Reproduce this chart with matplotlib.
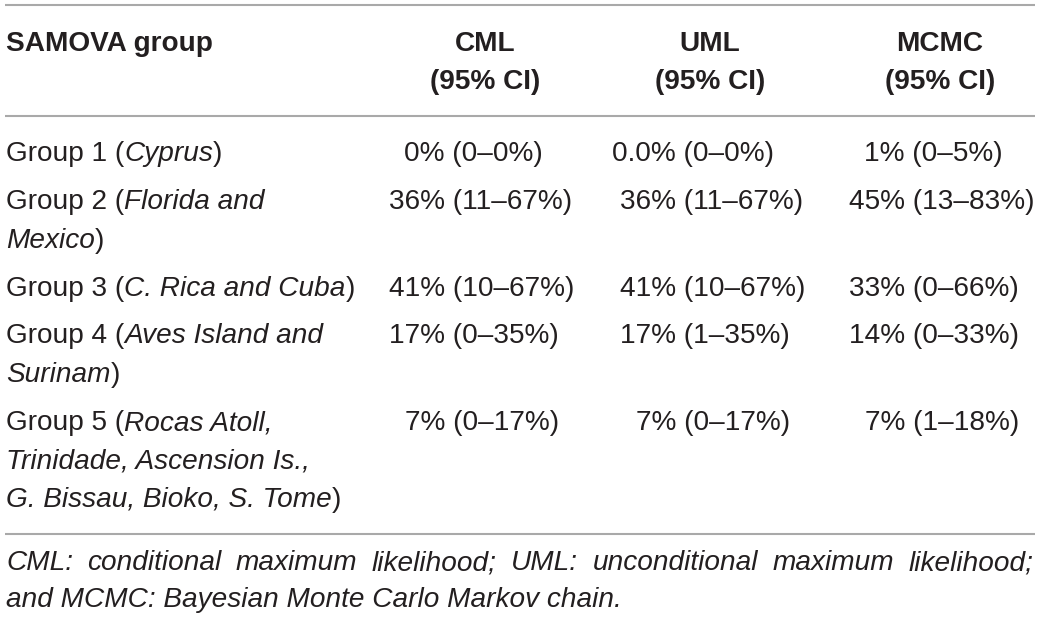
import matplotlib
matplotlib.use("Agg")
import matplotlib.pyplot as plt

# table content
headers = ["CML", "UML", "MCMC"]
header_sub = "(95% CI)"
first_col_header = "SAMOVA group"

groups = ["Group 1", "Group 2", "Group 3", "Group 4", "Group 5"]
places = [
    ["Cyprus"],
    ["Florida and", "Mexico"],
    ["C. Rica and Cuba"],
    ["Aves Island and", "Surinam"],
    ["Rocas Atoll,", "Trinidade, Ascension Is.,", "G. Bissau, Bioko, S. Tome"],
]
cml = ["0% (0–0%)", "36% (11–67%)", "41% (10–67%)", "17% (0–35%)", "7% (0–17%)"]
uml = ["0.0% (0–0%)", "36% (11–67%)", "41% (10–67%)", "17% (1–35%)", "7% (0–17%)"]
mcmc = ["1% (0–5%)", "45% (13–83%)", "33% (0–66%)", "14% (0–33%)", "7% (1–18%)"]

footnote = ["CML: conditional maximum likelihood; UML: unconditional maximum likelihood;",
            "and MCMC: Bayesian Monte Carlo Markov chain."]

# layout (pixels, origin top-left)
W, H = 1040, 620
FS = 20.2
TXT = "#231f20"
LINE = "#a9a9a9"
plt.rcParams["font.family"] = ["Liberation Sans", "DejaVu Sans"]

fig = plt.figure(figsize=(W / 100, H / 100), dpi=100)
ax = fig.add_axes([0, 0, 1, 1])
ax.set_xlim(0, W)
ax.set_ylim(H, 0)
ax.axis("off")
r = fig.canvas.get_renderer()


def width_of(s, **kw):
    t = ax.text(0, 0, s, fontsize=FS, **kw)
    w = t.get_window_extent(r).width
    t.remove()
    return w


def draw_runs(x, y, runs):
    for s, st in runs:
        t = ax.text(x, y, s, fontsize=FS, style=st, color=TXT, va="baseline", ha="left")
        x += t.get_window_extent(r).width


x0 = 6
col_center = [485, 710, 940]
col_anchor = [445, 676, 905]   # right edge of the point estimate
row_y = [161, 209, 296, 343, 430]
lh = 38.5

# rules
for yy in [5, 116, 534]:
    ax.plot([5, 1035], [yy, yy], color=LINE, lw=1.5, solid_capstyle="butt")

# header
ax.text(x0, 51, first_col_header, fontsize=FS, fontweight="bold", color=TXT, va="baseline")
for c, h in zip(col_center, headers):
    ax.text(c, 51, h, fontsize=FS, fontweight="bold", color=TXT, va="baseline", ha="center")
    ax.text(c, 89, header_sub, fontsize=FS, fontweight="bold", color=TXT, va="baseline", ha="center")

# body
for i, (g, pl) in enumerate(zip(groups, places)):
    y = row_y[i]
    for j, part in enumerate(pl):
        runs = []
        if j == 0:
            runs.append((g + " (", "normal"))
        runs.append((part, "italic"))
        if j == len(pl) - 1:
            runs.append((")", "normal"))
        draw_runs(x0, y + j * lh, runs)
    for a, vals in zip(col_anchor, [cml, uml, mcmc]):
        est = vals[i].split(" ")[0]
        ax.text(a - width_of(est), y, vals[i], fontsize=FS, color=TXT, va="baseline", ha="left")

# footnote, first line justified
words = footnote[0].split()
ws = [width_of(w, style="italic") for w in words]
gap = (1033 - x0 - sum(ws)) / (len(words) - 1)
x = x0
for w, wd in zip(words, ws):
    ax.text(x, 570, w, fontsize=FS, style="italic", color=TXT, va="baseline")
    x += wd + gap
ax.text(x0, 607, footnote[1], fontsize=FS, style="italic", color=TXT, va="baseline")

fig.savefig("out.png", dpi=100, facecolor="white")
